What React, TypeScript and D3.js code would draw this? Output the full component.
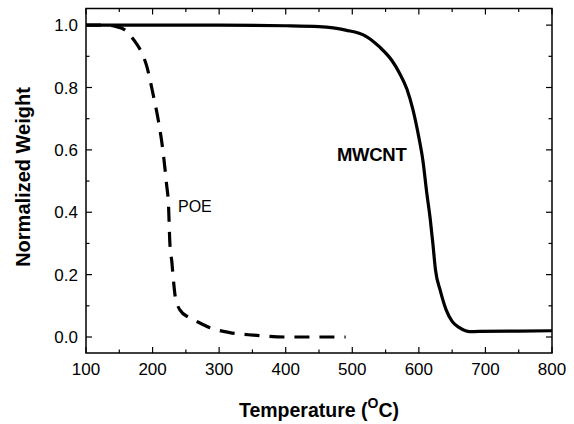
import React from "react";
import * as d3 from "d3";

// MWCNT curve (temperature °C, normalized weight)
const mwcntT = [100, 200, 300, 400, 450, 490, 520, 541, 560, 571, 582, 591, 600, 606, 612, 617, 621, 625, 632, 641, 650, 661, 670, 676, 690, 750, 800];
const mwcntW = [1.0, 1.0, 1.0, 0.998, 0.995, 0.984, 0.965, 0.93, 0.885, 0.846, 0.795, 0.73, 0.64, 0.567, 0.46, 0.38, 0.3, 0.215, 0.15, 0.087, 0.05, 0.03, 0.02, 0.017, 0.018, 0.019, 0.02];

// POE curve
const poeT = [100, 130, 146, 158, 166, 176, 184, 191, 201, 209, 216, 221, 224, 226, 229, 231, 234, 237, 241, 255, 271, 286, 316, 351, 399, 450, 490];
const poeW = [1.0, 1.0, 0.995, 0.985, 0.968, 0.94, 0.91, 0.87, 0.776, 0.69, 0.59, 0.49, 0.42, 0.3, 0.24, 0.19, 0.13, 0.105, 0.087, 0.062, 0.045, 0.03, 0.014, 0.006, 0.0, 0.0, 0.0];

const xTicks = [100, 200, 300, 400, 500, 600, 700, 800];
const xMinor = [150, 250, 350, 450, 550, 650, 750];
const yTicks = [0.0, 0.2, 0.4, 0.6, 0.8, 1.0];
const yMinor = [0.1, 0.3, 0.5, 0.7, 0.9];

const W = 574;
const H = 424;
const left = 86, right = 552, top = 8.5, bottom = 353;

export default function App() {
  const x = d3.scaleLinear().domain([100, 800]).range([left, right]);
  const y = d3.scaleLinear().domain([-0.0513, 1.0533]).range([bottom, top]);

  const line = d3
    .line<[number, number]>()
    .x(d => x(d[0]))
    .y(d => y(d[1]))
    .curve(d3.curveMonotoneX);

  const mwcnt = mwcntT.map((t, i) => [t, mwcntW[i]] as [number, number]);
  const poe = poeT.map((t, i) => [t, poeW[i]] as [number, number]);

  const font = "Liberation Sans, Arial, sans-serif";

  return (
    <svg width={W} height={H} style={{ position: "absolute", left: 0, top: 0, background: "#fff" }} fontFamily={font}>
      <defs>
        <clipPath id="plot">
          <rect x={left} y={top} width={right - left} height={bottom - top} />
        </clipPath>
      </defs>

      <g clipPath="url(#plot)">
        <path d={line(mwcnt) ?? ""} fill="none" stroke="#000" strokeWidth={3.2} />
        <path d={line(poe) ?? ""} fill="none" stroke="#000" strokeWidth={3.2} strokeDasharray="15,10" />
      </g>

      {/* frame */}
      <rect x={left} y={top} width={right - left} height={bottom - top} fill="none" stroke="#000" strokeWidth={1.5} />

      {/* x ticks bottom & top */}
      {xTicks.map(t => (
        <g key={"xt" + t}>
          <line x1={x(t)} x2={x(t)} y1={bottom} y2={bottom - 6} stroke="#000" strokeWidth={1.2} />
          <line x1={x(t)} x2={x(t)} y1={top} y2={top + 6} stroke="#000" strokeWidth={1.2} />
          <text x={x(t)} y={375} fontSize={17} textAnchor="middle">{t}</text>
        </g>
      ))}
      {xMinor.map(t => (
        <g key={"xm" + t}>
          <line x1={x(t)} x2={x(t)} y1={bottom} y2={bottom - 3.5} stroke="#000" strokeWidth={1.2} />
          <line x1={x(t)} x2={x(t)} y1={top} y2={top + 3.5} stroke="#000" strokeWidth={1.2} />
        </g>
      ))}

      {/* y ticks left & right */}
      {yTicks.map(t => (
        <g key={"yt" + t}>
          <line x1={left} x2={left + 6} y1={y(t)} y2={y(t)} stroke="#000" strokeWidth={1.2} />
          <line x1={right} x2={right - 6} y1={y(t)} y2={y(t)} stroke="#000" strokeWidth={1.2} />
          <text x={78} y={y(t)} dy="0.36em" fontSize={17} textAnchor="end">{t.toFixed(1)}</text>
        </g>
      ))}
      {yMinor.map(t => (
        <g key={"ym" + t}>
          <line x1={left} x2={left + 3.5} y1={y(t)} y2={y(t)} stroke="#000" strokeWidth={1.2} />
          <line x1={right} x2={right - 3.5} y1={y(t)} y2={y(t)} stroke="#000" strokeWidth={1.2} />
        </g>
      ))}

      {/* labels */}
      <text x={178} y={212} fontSize={16}>POE</text>
      <text x={337} y={161} fontSize={18.5} fontWeight="bold" letterSpacing={-0.3}>MWCNT</text>

      {/* axis titles */}
      <text
        transform={`translate(30, 177) rotate(-90)`}
        fontSize={20}
        fontWeight="bold"
        textAnchor="middle"
      >
        Normalized Weight
      </text>
      <text x={319} y={417} fontSize={19.5} fontWeight="bold" textAnchor="middle">
        Temperature (<tspan fontSize={14} dy={-9}>O</tspan><tspan dy={9}>C)</tspan>
      </text>
    </svg>
  );
}
